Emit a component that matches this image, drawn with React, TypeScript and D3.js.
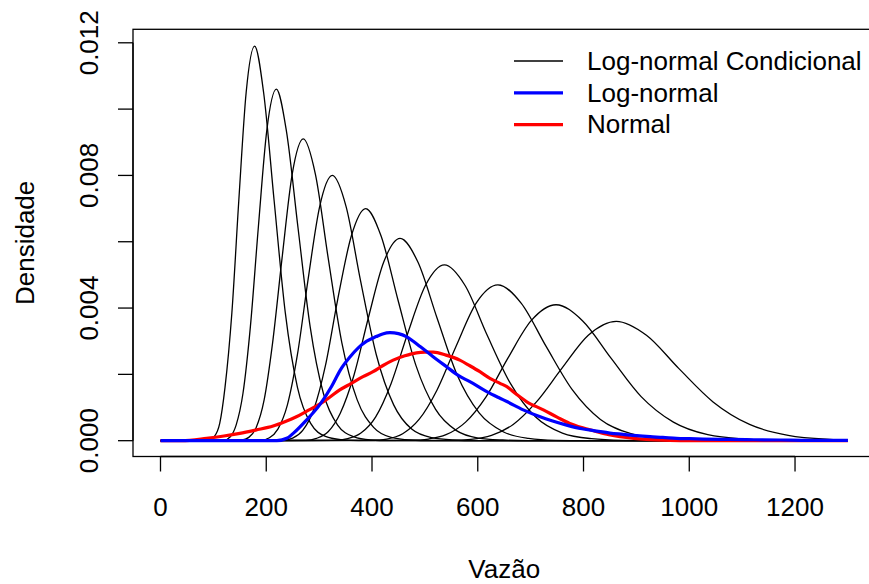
import React, { useRef, useEffect } from 'react';
import * as d3 from 'd3';

// eixos
const xTicks = [0, 200, 400, 600, 800, 1000, 1200];
const yTicks = [0, 0.002, 0.004, 0.006, 0.008, 0.01, 0.012];
const yTickLabels = ['0.000', '', '0.004', '', '0.008', '', '0.012'];

// curvas log-normal condicionais: [vazão, densidade]
const cond1 = [[0, 0], [92, 0.00003], [102, 0.00013], [112, 0.00052], [122, 0.00161], [135, 0.00386], [148, 0.00722], [162, 0.0105], [178, 0.0119], [195, 0.0105], [215, 0.00722], [236, 0.00386], [259, 0.00161], [284, 0.00052], [312, 0.00013], [342, 0.00003], [376, 0], [1300, 0]];
const cond2 = [[0, 0], [121, 0.00002], [132, 0.00012], [143, 0.00047], [156, 0.00143], [170, 0.00344], [185, 0.00643], [201, 0.00935], [219, 0.0106], [238, 0.00935], [260, 0.00643], [283, 0.00344], [308, 0.00143], [335, 0.00047], [365, 0.00012], [397, 0.00002], [432, 0], [1300, 0]];
const cond3 = [[0, 0], [154, 0.00002], [167, 0.0001], [181, 0.0004], [196, 0.00123], [212, 0.00295], [230, 0.00552], [249, 0.00803], [270, 0.0091], [293, 0.00803], [317, 0.00552], [343, 0.00295], [372, 0.00123], [403, 0.0004], [436, 0.0001], [473, 0.00002], [512, 0], [1300, 0]];
const cond4 = [[0, 0], [191, 0.00002], [206, 0.00009], [222, 0.00035], [240, 0.00108], [259, 0.0026], [279, 0.00485], [301, 0.00706], [325, 0.008], [351, 0.00706], [378, 0.00485], [408, 0.0026], [441, 0.00108], [475, 0.00035], [513, 0.00009], [553, 0.00002], [597, 0], [1300, 0]];
const cond5 = [[0, 0], [233, 0.00002], [250, 0.00008], [269, 0.00031], [290, 0.00095], [312, 0.00227], [335, 0.00425], [361, 0.00618], [388, 0.007], [417, 0.00618], [449, 0.00425], [483, 0.00227], [520, 0.00095], [559, 0.00031], [601, 0.00008], [647, 0.00002], [696, 0], [1300, 0]];
const cond6 = [[0, 0], [275, 0.00001], [295, 0.00007], [317, 0.00027], [340, 0.00083], [366, 0.00198], [393, 0.0037], [422, 0.00538], [453, 0.0061], [487, 0.00538], [523, 0.0037], [561, 0.00198], [603, 0.00083], [648, 0.00027], [696, 0.00007], [747, 0.00001], [803, 0], [1300, 0]];
const cond7 = [[0, 0], [330, 0.00001], [354, 0.00006], [379, 0.00023], [407, 0.00072], [436, 0.00172], [467, 0.00321], [501, 0.00468], [537, 0.0053], [576, 0.00468], [617, 0.00321], [662, 0.00172], [709, 0.00072], [760, 0.00023], [815, 0.00006], [874, 0.00001], [936, 0], [1300, 0]];
const cond8 = [[0, 0], [401, 0.00001], [428, 0.00005], [458, 0.00021], [489, 0.00064], [523, 0.00153], [559, 0.00285], [597, 0.00415], [638, 0.0047], [682, 0.00415], [729, 0.00285], [779, 0.00153], [832, 0.00064], [890, 0.00021], [951, 0.00005], [1016, 0.00001], [1086, 0], [1300, 0]];
const cond9 = [[0, 0], [475, 0.00001], [507, 0.00005], [540, 0.00018], [577, 0.00056], [616, 0.00133], [657, 0.00249], [701, 0.00362], [748, 0.0041], [798, 0.00362], [852, 0.00249], [909, 0.00133], [970, 0.00056], [1035, 0.00018], [1105, 0.00005], [1179, 0.00001], [1258, 0], [1300, 0]];
const cond10 = [[0, 0], [551, 0.00001], [587, 0.00004], [626, 0.00016], [667, 0.00049], [711, 0.00117], [759, 0.00218], [809, 0.00318], [862, 0.0036], [919, 0.00318], [980, 0.00218], [1045, 0.00117], [1114, 0.00049], [1187, 0.00016], [1266, 0.00004], [1300, 0.00002]];
const condicionais = [cond1, cond2, cond3, cond4, cond5, cond6, cond7, cond8, cond9, cond10];

// log-normal (azul)
const logNormal = [[0, 0], [220, 0], [240, 0.00008], [251, 0.00022], [276, 0.00062], [301, 0.00108], [324, 0.00165], [340, 0.00213], [357, 0.0025], [374, 0.0028], [390, 0.003], [408, 0.00314], [420, 0.00322], [434, 0.00326], [450, 0.00323], [465, 0.00314], [478, 0.003], [491, 0.00284], [515, 0.00254], [541, 0.00223], [563, 0.00197], [585, 0.00178], [617, 0.00148], [642, 0.00128], [655, 0.00118], [686, 0.00093], [718, 0.00072], [740, 0.0006], [768, 0.00047], [797, 0.00036], [825, 0.00029], [850, 0.00023], [875, 0.00019], [900, 0.00015], [926, 0.00012], [950, 0.0001], [976, 0.00007], [1000, 0.00006], [1026, 0.00005], [1060, 0.00004], [1108, 0.00003], [1171, 0.00002], [1230, 0.00001], [1300, 0.00001]];

// normal (vermelho)
const normal = [[0, 0], [40, 0], [87, 0.00007], [120, 0.00014], [150, 0.00022], [180, 0.00032], [213, 0.00044], [235, 0.00057], [257, 0.00072], [280, 0.00092], [301, 0.0011], [320, 0.00131], [339, 0.00153], [360, 0.00172], [383, 0.00193], [402, 0.00208], [420, 0.00226], [440, 0.00243], [462, 0.00256], [484, 0.00265], [500, 0.00267], [516, 0.00267], [540, 0.00258], [566, 0.00243], [585, 0.00226], [604, 0.00208], [623, 0.00188], [642, 0.00173], [655, 0.00163], [673, 0.0014], [692, 0.00118], [724, 0.00093], [750, 0.00071], [774, 0.00052], [800, 0.00038], [825, 0.00027], [848, 0.00018], [869, 0.00012], [895, 0.00007], [919, 0.00004], [963, 0.00001], [1000, 0], [1300, 0]];

const legendLabels = ['Log-normal Condicional', 'Log-normal', 'Normal'];
const legendColors = ['#000000', '#0000ff', '#ff0000'];

export default function App() {
  const chart = useRef(null);

  useEffect(() => {
    draw();
  }, []);

  function draw() {
    const svg = d3.select(chart.current);
    svg.selectAll('*').remove();

    const font = '"Liberation Sans", Arial, Helvetica, sans-serif';
    const fs = 26;

    // escalas (faixa dos dados + 4%, como no R)
    const x = d3.scaleLinear().domain([-52, 1352]).range([133, 875.4]);
    const y = d3.scaleLinear().domain([-0.000477, 0.012407]).range([456.5, 29.3]);

    const line = d3.line()
      .x((d) => x(d[0]))
      .y((d) => y(d[1]))
      .curve(d3.curveMonotoneX);

    // curvas condicionais
    svg.append('g')
      .selectAll('path')
      .data(condicionais)
      .enter()
      .append('path')
      .attr('d', (d) => line(d))
      .attr('fill', 'none')
      .attr('stroke', '#000')
      .attr('stroke-width', 1.3)
      .attr('stroke-linejoin', 'round');

    svg.append('path')
      .attr('d', line(normal))
      .attr('fill', 'none')
      .attr('stroke', legendColors[2])
      .attr('stroke-width', 3.2)
      .attr('stroke-linejoin', 'round');

    svg.append('path')
      .attr('d', line(logNormal))
      .attr('fill', 'none')
      .attr('stroke', legendColors[1])
      .attr('stroke-width', 3.2)
      .attr('stroke-linejoin', 'round');

    // caixa
    const [x0, x1] = x.range();
    const [y0, y1] = y.range();
    svg.append('rect')
      .attr('x', x0)
      .attr('y', y1)
      .attr('width', x1 - x0)
      .attr('height', y0 - y1)
      .attr('fill', 'none')
      .attr('stroke', '#000')
      .attr('stroke-width', 1.3);

    // eixo x
    const gx = svg.append('g');
    gx.append('line')
      .attr('x1', x(xTicks[0])).attr('x2', x(xTicks[xTicks.length - 1]))
      .attr('y1', y0).attr('y2', y0)
      .attr('stroke', '#000').attr('stroke-width', 1.3);
    gx.selectAll('line.tick')
      .data(xTicks)
      .enter()
      .append('line')
      .attr('class', 'tick')
      .attr('x1', (d) => x(d)).attr('x2', (d) => x(d))
      .attr('y1', y0).attr('y2', y0 + 15)
      .attr('stroke', '#000').attr('stroke-width', 1.3);
    gx.selectAll('text')
      .data(xTicks)
      .enter()
      .append('text')
      .attr('x', (d) => x(d))
      .attr('y', 516)
      .attr('text-anchor', 'middle')
      .attr('font-family', font)
      .attr('font-size', fs)
      .text((d) => d);

    // eixo y
    const gy = svg.append('g');
    gy.append('line')
      .attr('x1', x0).attr('x2', x0)
      .attr('y1', y(yTicks[0])).attr('y2', y(yTicks[yTicks.length - 1]))
      .attr('stroke', '#000').attr('stroke-width', 1.3);
    gy.selectAll('line.tick')
      .data(yTicks)
      .enter()
      .append('line')
      .attr('class', 'tick')
      .attr('x1', x0).attr('x2', x0 - 15)
      .attr('y1', (d) => y(d)).attr('y2', (d) => y(d))
      .attr('stroke', '#000').attr('stroke-width', 1.3);
    gy.selectAll('text')
      .data(yTicks)
      .enter()
      .append('text')
      .attr('transform', (d) => `translate(98,${y(d)}) rotate(-90)`)
      .attr('text-anchor', 'middle')
      .attr('font-family', font)
      .attr('font-size', fs)
      .text((d, i) => yTickLabels[i]);

    // títulos
    svg.append('text')
      .attr('x', (x0 + x1) / 2)
      .attr('y', 578)
      .attr('text-anchor', 'middle')
      .attr('font-family', font)
      .attr('font-size', fs)
      .text('Vazão');

    svg.append('text')
      .attr('transform', `translate(34,${(y0 + y1) / 2}) rotate(-90)`)
      .attr('text-anchor', 'middle')
      .attr('font-family', font)
      .attr('font-size', fs)
      .text('Densidade');

    // legenda
    const leg = svg.append('g')
      .selectAll('g')
      .data(legendLabels)
      .enter()
      .append('g')
      .attr('transform', (d, i) => `translate(514,${61 + i * 31.8})`);
    leg.append('line')
      .attr('x1', 0).attr('x2', 49)
      .attr('stroke', (d, i) => legendColors[i])
      .attr('stroke-width', (d, i) => (i === 0 ? 1.3 : 3.2));
    leg.append('text')
      .attr('x', 73)
      .attr('y', 2)
      .attr('dominant-baseline', 'middle')
      .attr('font-family', font)
      .attr('font-size', fs)
      .text((d) => d);
  }

  return (
    <div style={{ position: 'absolute', left: 0, top: 0 }}>
      <svg ref={chart} width={869} height={584} style={{ display: 'block', background: '#fff' }} />
    </div>
  );
}
